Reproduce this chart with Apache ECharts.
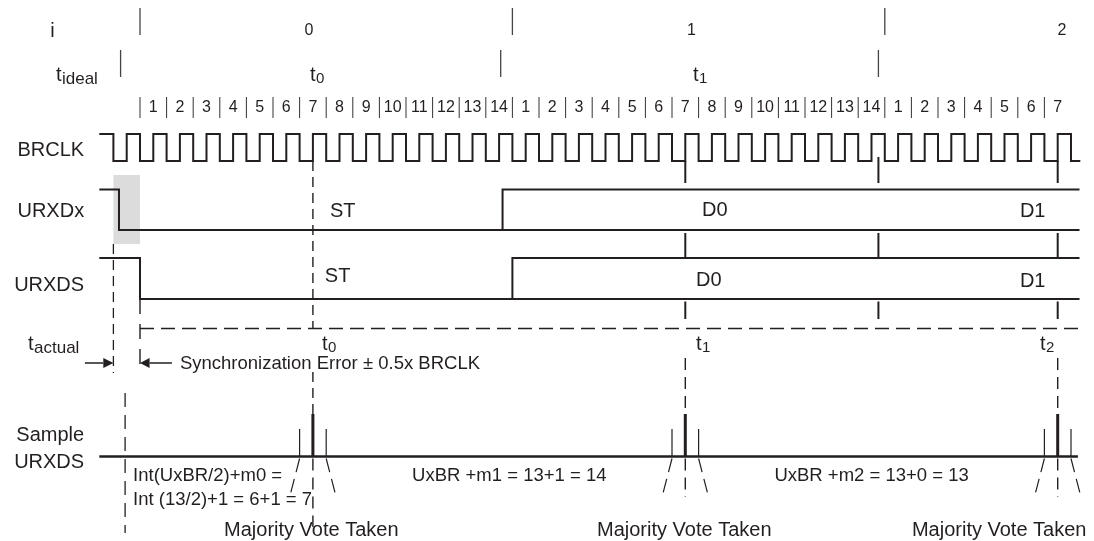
<!DOCTYPE html>
<html>
<head>
<meta charset="utf-8">
<script src="https://cdn.jsdelivr.net/npm/echarts@6/dist/echarts.min.js"></script>
<style>html,body{margin:0;padding:0;background:#fff}#c{width:1094px;height:541px}</style>
</head>
<body>
<div id="c"></div>
<script>
// ================= DATA (time axis in BRCLK cycles) =================
const cycleLabels = ['1','2','3','4','5','6','7','8','9','10','11','12','13','14',
                     '1','2','3','4','5','6','7','8','9','10','11','12','13','14',
                     '1','2','3','4','5','6','7'];
const bitIndexLabels = ['0','1','2'];
const bitFrameStarts = [0, 14, 28];
const idealBitEdges = [-0.73, 13.56, 27.76];
const idealTimeSubs = ['0','1'];
const actualTimeSubs = ['0','1','2'];
const brclkSpan = [-1.53, 35.35];
const brclkEdges = [-1,-0.5,0,0.5,1,1.5,2,2.5,3,3.5,4,4.5,5,5.5,6,6.5,7,7.5,8,8.5,9,9.5,
  10,10.5,11,11.5,12,12.5,13,13.5,14,14.5,15,15.5,16,16.5,17,17.5,18,18.5,19,19.5,
  20,20.5,21,21.5,22,22.5,23,23.5,24,24.5,25,25.5,26,26.5,27,27.5,28,28.5,29,29.5,
  30,30.5,31,31.5,32,32.5,33,33.5,34,34.5,35];
const urxdxEdges = [-0.79, 13.63];     // fall, rise
const urxdsEdges = [0, 14];            // fall, rise (synchronised)
const signalEnd = 35.32;
const bitNames = ['ST','D0','D1'];
const sampleTimes = [6.5, 20.5, 34.5]; // t0, t1, t2 (majority vote centre)
const sampleOffsets = [-0.5, 0, 0.5];  // three samples
const syncErrorSpan = [-1, 0];
const syncText = 'Synchronization Error \u00b1 0.5x BRCLK';
const formulaTexts = ['Int(UxBR/2)+m0 =', 'Int (13/2)+1 = 6+1 = 7', 'UxBR +m1 = 13+1 = 14', 'UxBR +m2 = 13+0 = 13'];
const voteText = 'Majority Vote Taken';
const rowLabels = ['BRCLK','URXDx','URXDS','Sample','URXDS'];

// ================= LAYOUT =================
const INK = '#231f20';
const FONT = '"Liberation Sans", Arial, sans-serif';
const PX = 26.6, ORIGIN = 140, W = 1094, H = 541;
const Y = {
  iTop: 8, iBot: 35, iText: 31,
  idTop: 50, idBot: 77, idText: 75,
  sepTop: 97, sepBot: 118, numText: 108,
  clkHi: 134, clkLo: 161,
  dxHi: 189.5, dxLo: 230,
  dsHi: 258, dsLo: 299,
  dashH: 328.5, tAct: 344, arrow: 363,
  base: 456.5, thick: 414, thin: 429,
  f1: 475.5, f2: 499.5, vote: 530.5
};
const LBL_X = -2.1;

const shapes = [];
function line(pts, w, dash, color) { shapes.push({kind:'line', pts, w, dash: dash || null, color: color || INK}); }
function poly(pts) { shapes.push({kind:'poly', pts}); }
function rect(p0, p1, fill) { shapes.push({kind:'rect', pts:[p0, p1], fill}); }

// gray synchronisation window
rect([syncErrorSpan[0], 175], [syncErrorSpan[1], 244], '#dcdcdc');

// i frame bars
bitFrameStarts.forEach(b => line([[b, Y.iTop], [b, Y.iBot]], 1.3, null, '#444'));
// t_ideal bars
idealBitEdges.forEach(e => line([[e, Y.idTop], [e, Y.idBot]], 1.3, null, '#444'));
// cycle separators
cycleLabels.forEach((_, i) => line([[i, Y.sepTop], [i, Y.sepBot]], 1, null, '#333'));

// BRCLK
(function(){
  let lvl = Y.clkHi;
  const pts = [[brclkSpan[0], lvl]];
  brclkEdges.forEach(e => { pts.push([e, lvl]); lvl = (lvl === Y.clkHi) ? Y.clkLo : Y.clkHi; pts.push([e, lvl]); });
  pts.push([brclkSpan[1], lvl]);
  line(pts, 2);
})();

// URXDx
line([[brclkSpan[0], Y.dxHi], [urxdxEdges[0], Y.dxHi], [urxdxEdges[0], Y.dxLo], [signalEnd, Y.dxLo]], 2);
line([[urxdxEdges[1], Y.dxLo], [urxdxEdges[1], Y.dxHi], [signalEnd, Y.dxHi]], 2);
// URXDS
line([[brclkSpan[0], Y.dsHi], [urxdsEdges[0], Y.dsHi], [urxdsEdges[0], Y.dsLo], [signalEnd, Y.dsLo]], 2);
line([[urxdsEdges[1], Y.dsLo], [urxdsEdges[1], Y.dsHi], [signalEnd, Y.dsHi]], 2);

// t0 vertical through the signals
line([[sampleTimes[0], Y.clkLo], [sampleTimes[0], Y.dashH]], 1.4, [10, 6]);
line([[sampleTimes[0], 372], [sampleTimes[0], Y.thick]], 1.4, [10, 6]);
line([[sampleTimes[0], Y.base + 2], [sampleTimes[0], 527]], 1.4, [12, 7]);
// other bit boundaries: segments between rows
[sampleTimes[1], idealBitEdges[2], sampleTimes[2]].forEach((x, k) => {
  line([[x, k === 1 ? 157 : Y.clkLo], [x, 183]], 2);
  line([[x, 233], [x, Y.dsHi]], 2);
  line([[x, 301.5], [x, 319]], 2);
});
[sampleTimes[1], sampleTimes[2]].forEach(x => {
  line([[x, 358], [x, Y.thick]], 1.4, [12, 7]);
  line([[x, Y.base + 2], [x, 497]], 1.4, [12, 7]);
});
// sample marks
sampleTimes.forEach(t => {
  line([[t, Y.thick], [t, Y.base]], 3);
  [sampleOffsets[0], sampleOffsets[2]].forEach(o => {
    line([[t + o, Y.thin], [t + o, Y.base]], 1.2);
    line([[t + o, Y.base + 2], [t + o * 1.75, 497]], 1.2, [14, 7]);
  });
});
// sample baseline
line([[brclkSpan[0], Y.base], [35.26, Y.base]], 2.6);
// t_actual dashed horizontal
line([[urxdsEdges[0], Y.dashH], [signalEnd, Y.dashH]], 1.4, [14, 7]);
// URXDS edge continuation
line([[urxdsEdges[0], Y.dsLo], [urxdsEdges[0], 371]], 1.4, [15, 10]);
// t_actual dashed vertical
line([[syncErrorSpan[0], 244], [syncErrorSpan[0], 373]], 1.3, [10, 6]);
// left dashed in sample row
line([[-0.56, 393], [-0.56, 533]], 1.3, [14, 8]);
// arrows
line([[-2.07, Y.arrow], [-1.38, Y.arrow]], 1.5);
poly([[syncErrorSpan[0], Y.arrow], [-1.38, Y.arrow - 5], [-1.38, Y.arrow + 5]]);
poly([[syncErrorSpan[1], Y.arrow], [0.36, Y.arrow - 5], [0.36, Y.arrow + 5]]);
line([[0.36, Y.arrow], [1.2, Y.arrow]], 1.5);

// ================= TEXTS =================
const texts = [];
function txt(x, y, t, size, align, sub, subSize, subDx, subDy) {
  texts.push({x, y, t, size, align: align || 'left', sub, subSize, subDx, subDy});
}
txt(-3.29, Y.iText, 'i', 20, 'center');
txt(-3.16, Y.idText, 't', 20, 'left', 'ideal', 17, 6, 4);
txt(-4.21, Y.tAct, 't', 20, 'left', 'actual', 17, 6, 4);
const rowLabelY = [150, 211.5, 285, 435.5, 462];
rowLabels.forEach((l, i) => txt(LBL_X, rowLabelY[i], l, 20, 'right'));
const bitIndexAt = [6.35, 20.73, 34.66];
bitIndexLabels.forEach((l, i) => txt(bitIndexAt[i], 30.5, l, 16, 'center'));
const idealLabelAt = [6.39, 20.79];
idealTimeSubs.forEach((s, i) => txt(idealLabelAt[i], Y.idText, 't', 20, 'left', s, 15, 6, 4));
cycleLabels.forEach((l, i) => txt(i + 0.5, Y.numText, l, 16, 'center'));
const actualLabelAt = [6.84, 20.9, 33.83];
actualTimeSubs.forEach((s, i) => txt(actualLabelAt[i], Y.tAct, 't', 20, 'left', s, 15, 6, 4));
const bitNameAtX = [[7.14, 6.95], [21.13, 20.9], [33.08, 33.08]];
const bitNameY = [[211, 276.5], [210.5, 280.5], [211, 281]];
bitNames.forEach((n, i) => { txt(bitNameAtX[i][0], bitNameY[i][0], n, 20); txt(bitNameAtX[i][1], bitNameY[i][1], n, 20); });
txt(1.5, 364, syncText, 18.5);
const formulaAt = [[-0.26, Y.f1], [-0.26, Y.f2], [10.23, Y.f1], [23.85, Y.f1]];
formulaTexts.forEach((f, i) => txt(formulaAt[i][0], formulaAt[i][1], f, 18.5));
const voteAt = [3.16, 17.18, 29.02];
voteAt.forEach(x => txt(x, Y.vote, voteText, 20));

// ================= CHART =================
const chart = echarts.init(document.getElementById('c'), null, {renderer: 'canvas'});
chart.setOption({
  animation: false,
  backgroundColor: '#fff',
  grid: {left: 0, right: 0, top: 0, bottom: 0},
  xAxis: {type: 'value', min: -ORIGIN / PX, max: (W - ORIGIN) / PX, show: false},
  yAxis: {type: 'value', min: 0, max: H, inverse: true, show: false},
  series: [
    {
      type: 'custom', silent: true, clip: false,
      data: shapes.map(s => s.pts[0]),
      renderItem(params, api) {
        const s = shapes[params.dataIndex];
        const pts = s.pts.map(p => api.coord(p));
        if (s.kind === 'rect') {
          return {type: 'rect', shape: {x: Math.min(pts[0][0], pts[1][0]), y: Math.min(pts[0][1], pts[1][1]),
            width: Math.abs(pts[1][0] - pts[0][0]), height: Math.abs(pts[1][1] - pts[0][1])}, style: {fill: s.fill}};
        }
        if (s.kind === 'poly') return {type: 'polygon', shape: {points: pts}, style: {fill: INK}};
        return {type: 'polyline', shape: {points: pts}, style: {stroke: s.color, lineWidth: s.w, lineDash: s.dash, fill: null}};
      }
    },
    {
      type: 'custom', silent: true, clip: false,
      data: texts.map(t => [t.x, t.y]),
      renderItem(params, api) {
        const t = texts[params.dataIndex];
        const p = api.coord([t.x, t.y]);
        const main = {type: 'text', x: p[0], y: p[1], style: {text: t.t, fill: INK, font: t.size + 'px ' + FONT,
          align: t.align, verticalAlign: 'middle'}};
        if (!t.sub) return main;
        return {type: 'group', children: [main, {type: 'text', x: p[0] + t.subDx, y: p[1] + t.subDy,
          style: {text: t.sub, fill: INK, font: t.subSize + 'px ' + FONT, align: 'left', verticalAlign: 'middle'}}]};
      }
    }
  ]
});
</script>
</body>
</html>
